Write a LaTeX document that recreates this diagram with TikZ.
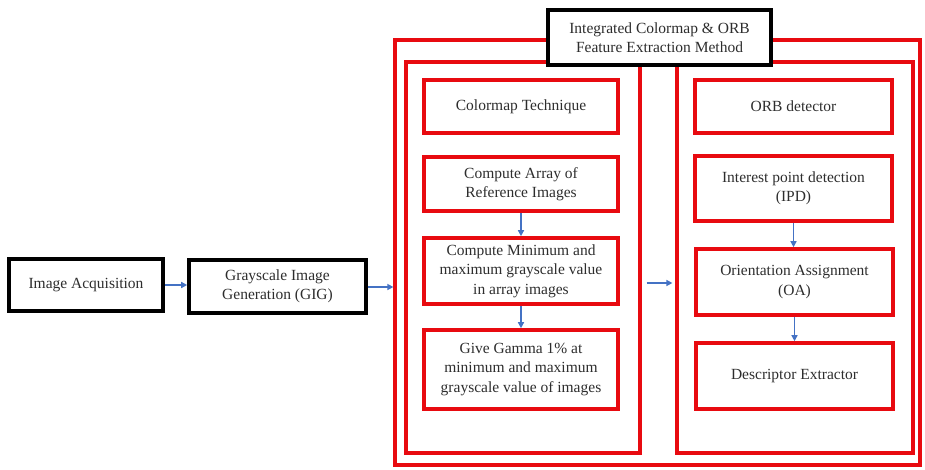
\documentclass[tikz,border=0pt]{standalone}
\usepackage{fontspec}
\setmainfont{LiberationSerif}[Extension=.ttf, UprightFont=*-Regular, BoldFont=*-Bold, ItalicFont=*-Italic, BoldItalicFont=*-BoldItalic]
\usetikzlibrary{arrows.meta,calc}
\definecolor{boxred}{RGB}{232,10,16}
\definecolor{arrblue}{RGB}{68,114,196}
\definecolor{txt}{RGB}{45,45,45}
\tikzset{
  base/.style={rectangle, inner sep=0pt, align=center, text=txt,
    font=\rmfamily\fontsize{15.5}{19.5}\selectfont},
  blackbox/.style={base, draw=black, line width=3.6pt, fill=white},
  redbox/.style={base, draw=boxred, line width=3.6pt},
  frame/.style={rectangle, inner sep=0pt, draw=boxred, line width=3.2pt},
  arr/.style={draw=arrblue, line width=1.4pt, -{Triangle[length=6pt,width=6pt]}}
}
\begin{document}
\begin{tikzpicture}[x=1pt,y=-1pt]
\useasboundingbox (0,0) rectangle (925,469);
% left chain
\node[blackbox, minimum width=154pt, minimum height=52pt] (acq) at (86,285) {Image Acquisition};
\node[blackbox, minimum width=177pt, minimum height=53pt] (gig) at (277.5,286.5) {Grayscale Image\\Generation (GIG)};
% frames
\node[frame, minimum width=525pt, minimum height=425pt] (outer) at (657.5,252.5) {};
\node[frame, minimum width=234pt, minimum height=391pt] (linner) at (523,257.5) {};
\node[frame, minimum width=236pt, minimum height=391pt] (rinner) at (795,257.5) {};
% left column
\node[redbox, minimum width=194pt, minimum height=53pt] (cmt) at (521,106.5) {Colormap Technique};
\node[redbox, minimum width=194pt, minimum height=54pt] (arr) at (521,184) {Compute Array of\\Reference Images};
\node[redbox, minimum width=194pt, minimum height=66pt] (mm) at (521,271) {Compute Minimum and\\maximum grayscale value\\in array images};
\node[redbox, minimum width=194pt, minimum height=79pt] (gam) at (521,369.5) {Give Gamma 1\% at\\minimum and maximum\\grayscale value of images};
% right column
\node[redbox, minimum width=197pt, minimum height=53pt] (orb) at (793.5,106.5) {ORB detector};
\node[redbox, minimum width=197pt, minimum height=65pt] (ipd) at (793.5,188.5) {Interest point detection\\(IPD)};
\node[redbox, minimum width=197pt, minimum height=66pt] (oa) at (794.5,282) {Orientation Assignment\\(OA)};
\node[redbox, minimum width=197pt, minimum height=66pt] (desc) at (794.5,376) {Descriptor Extractor};
% title
\node[blackbox, minimum width=223pt, minimum height=55pt] (title) at (659.5,37.5) {Integrated Colormap \& ORB\\Feature Extraction Method};
% arrows
\draw[arr] (acq.east |- 0,285) -- (gig.west |- 0,285);
\draw[arr] (gig.east |- 0,287) -- (outer.west |- 0,287);
\draw[arr] ([xshift=5pt]linner.east |- 0,283) -- ([xshift=-3pt]rinner.west |- 0,283);
\draw[arr] (arr.south) -- (arr.south |- mm.north);
\draw[arr] (mm.south) -- (mm.south |- gam.north);
\draw[arr] (ipd.south) -- (ipd.south |- oa.north);
\draw[arr] (oa.south) -- (oa.south |- desc.north);
\end{tikzpicture}
\end{document}
